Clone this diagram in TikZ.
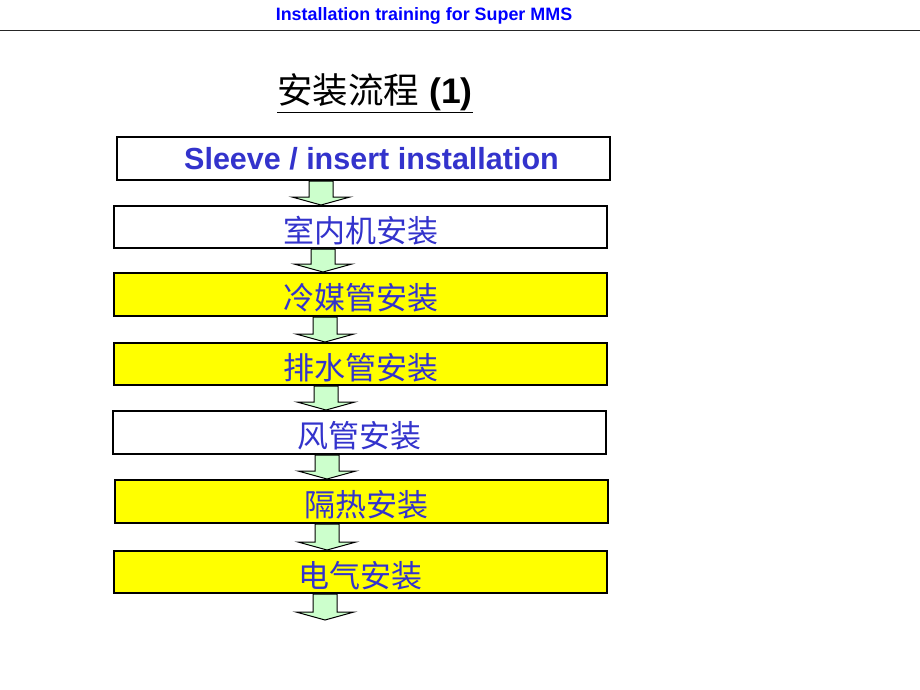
\documentclass[tikz,border=0pt]{standalone}
\usepackage{fontspec}
\setmainfont{Liberation Sans}
\newfontfamily\cjk{Noto Sans CJK SC}
\usetikzlibrary{calc}
\definecolor{txtblue}{RGB}{51,51,204}
\definecolor{hdrblue}{RGB}{0,0,255}
\definecolor{boxyellow}{RGB}{255,255,0}
\definecolor{arrgreen}{RGB}{204,255,204}
\newcommand\lowered[1]{\raisebox{-3.5pt}[\height][\depth]{#1}}
\newcommand\blkarrow[3]{%
  \filldraw[flowarrow] let \p1=(#1), \p2=(#2) in
    (#3pt-12pt,\y1) -- (#3pt+12pt,\y1) -- (#3pt+12pt,\y2+8pt) --
    (#3pt+29pt,\y2+8pt) -- (#3pt,\y2) -- (#3pt-29pt,\y2+8pt) --
    (#3pt-12pt,\y2+8pt) -- cycle;}
\begin{document}
\begin{tikzpicture}[x=1pt,y=-1pt,
  stepbox/.style={draw=black, line width=2pt, fill=white, minimum width=493pt,
    minimum height=43pt, inner sep=0pt, text=txtblue,
    font=\cjk\fontsize{31}{31}\selectfont},
  hlbox/.style={stepbox, fill=boxyellow},
  flowarrow/.style={draw=black, line width=1pt, fill=arrgreen, line join=miter},
  header/.style={text=hdrblue, font=\bfseries\fontsize{17.9}{18}\selectfont, inner sep=0pt},
  titlestyle/.style={text=black, inner sep=0pt, font=\fontsize{35.5}{36}\selectfont}]
\useasboundingbox (0,0) rectangle (920,690);
\fill[white] (0,0) rectangle (920,690);
\node[header] (hdr) at (424,16) {Installation training for Super MMS};
\draw[line width=1.3pt, black!85] (0,30.5) -- (920,30.5);
\node[titlestyle] (title) at (375,93.5) {\underline{{\cjk 安装流程} \bfseries(1)}};
\node[stepbox, font=\bfseries\fontsize{30.5}{31}\selectfont] (b1) at (363.5,158.5) {\hspace*{16pt}Sleeve / insert installation};
\node[stepbox, minimum height=42pt] (b2) at (360.5,227) {\lowered{室内机安装}};
\node[hlbox] (b3) at (360.5,294.5) {\lowered{冷媒管安装}};
\node[hlbox, minimum height=42pt] (b4) at (360.5,364) {\lowered{排水管安装}};
\node[stepbox] (b5) at (359.5,432.5) {\lowered{风管安装}};
\node[hlbox] (b6) at (361.5,501.5) {\lowered{\hspace*{10pt}隔热安装}};
\node[hlbox, minimum height=42pt] (b7) at (360.5,572) {\lowered{电气安装}};
\coordinate (end) at (325,620);
\blkarrow{b1.south}{b2.north}{321}
\blkarrow{b2.south}{b3.north}{323}
\blkarrow{b3.south}{b4.north}{325}
\blkarrow{b4.south}{b5.north}{326}
\blkarrow{b5.south}{b6.north}{327}
\blkarrow{b6.south}{b7.north}{327}
\blkarrow{b7.south}{end}{325}
\end{tikzpicture}
\end{document}
